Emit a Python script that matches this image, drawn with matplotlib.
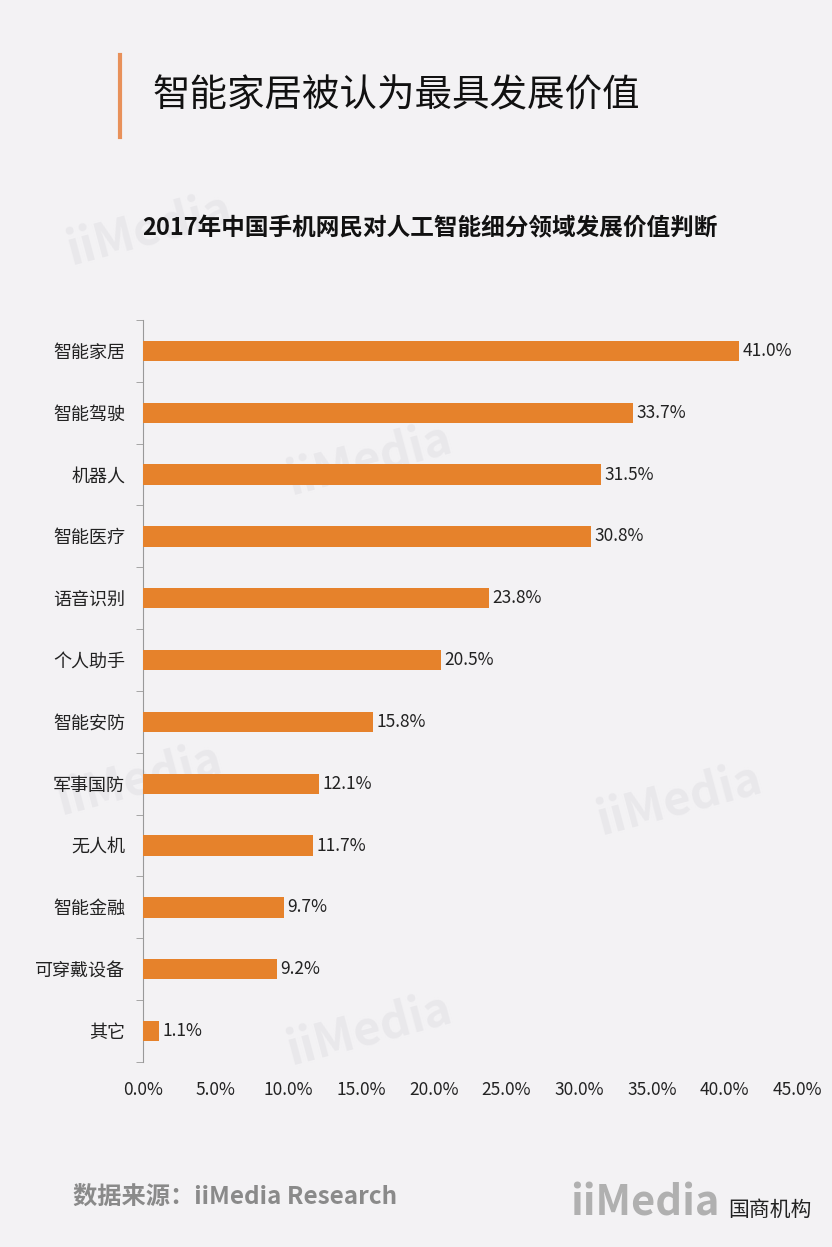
import matplotlib.pyplot as plt
import numpy as np

plt.rcParams['font.family'] = ['Noto Sans CJK SC', 'DejaVu Sans']

categories = ['智能家居', '智能驾驶', '机器人', '智能医疗', '语音识别', '个人助手',
              '智能安防', '军事国防', '无人机', '智能金融', '可穿戴设备', '其它']
values = [41.0, 33.7, 31.5, 30.8, 23.8, 20.5, 15.8, 12.1, 11.7, 9.7, 9.2, 1.1]
xticks = [0, 5, 10, 15, 20, 25, 30, 35, 40, 45]

bg = '#f3f2f4'
bar_color = '#e6822b'

fig = plt.figure(figsize=(8.32, 12.47), dpi=100, facecolor=bg)
ax = fig.add_axes([0.172, 0.1484, 0.786, 0.595], facecolor=bg)

y = np.arange(len(categories))
ax.barh(y, values, height=0.33, color=bar_color, zorder=3)
for yi, v in zip(y, values):
    ax.text(v + 0.25, yi, f'{v:.1f}%', va='center', ha='left', fontsize=12.5,
            color='#222222', zorder=4)

ax.set_ylim(len(categories) - 0.5, -0.5)
ax.set_xlim(0, 45)
ax.set_yticks(y)
ax.set_yticklabels(categories, fontsize=13, color='#222222')
ax.set_yticks(np.arange(len(categories) + 1) - 0.5, minor=True)
ax.tick_params(axis='y', which='major', length=0, pad=13)
ax.tick_params(axis='y', which='minor', length=5, color='#999999')
ax.set_xticks(xticks)
ax.set_xticklabels([f'{t:.1f}%' for t in xticks], fontsize=12.5, color='#222222')
ax.tick_params(axis='x', length=0, pad=14)
for s in ['top', 'right', 'bottom']:
    ax.spines[s].set_visible(False)
ax.spines['left'].set_color('#999999')

# faint watermarks, kept behind everything in the axes
for (wx, wy) in [(150, 230), (370, 460), (140, 780), (680, 800), (370, 1030)]:
    ax.text(wx / 832, 1 - wy / 1247, 'iiMedia', fontsize=34, fontweight='bold',
            color='#e9e8eb', rotation=15, ha='center', va='center', zorder=0,
            transform=fig.transFigure, clip_on=False)

# header
fig.add_artist(plt.Line2D([120 / 832, 120 / 832], [1 - 55 / 1247, 1 - 137 / 1247],
                          color='#e8915a', linewidth=3))
fig.text(153 / 832, 1 - 96 / 1247, '智能家居被认为最具发展价值', fontsize=27,
         va='center', ha='left', color='#111111')
fig.text(430 / 832, 1 - 228 / 1247, '2017年中国手机网民对人工智能细分领域发展价值判断',
         fontsize=17, fontweight='bold', va='center', ha='center', color='#111111')

# footer
fig.text(73 / 832, 1 - 1198 / 1247, '数据来源：iiMedia Research', fontsize=17.5,
         fontweight='bold', color='#8a8a8a', va='center', ha='left')
fig.text(570 / 832, 1 - 1203 / 1247, 'iiMedia', fontsize=30, fontweight='bold',
         color='#b0b0b0', va='center', ha='left')
fig.text(812 / 832, 1 - 1210 / 1247, '国商机构', fontsize=15, color='#222222',
         va='center', ha='right')

fig.savefig('out.png', dpi=100, facecolor=bg)
